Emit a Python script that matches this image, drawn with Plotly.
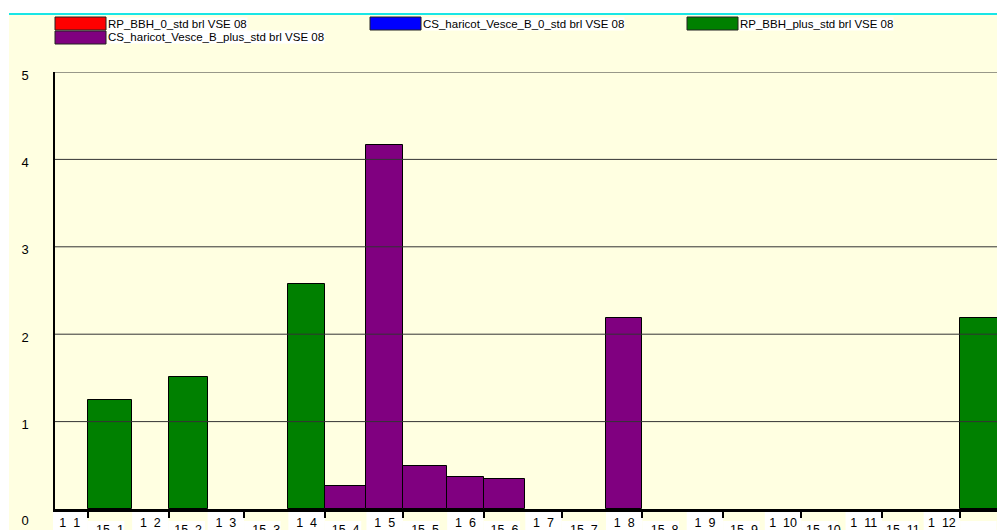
import plotly.graph_objects as go
from datetime import date, datetime, timedelta

# ---------------- data ----------------
year = 2008
months = [1, 2, 3, 4, 5, 6, 7, 8, 9, 10, 11, 12]
period_days = [1, 15]

series_names = [
    "RP_BBH_0_std brl VSE 08",
    "CS_haricot_Vesce_B_0_std brl VSE 08",
    "RP_BBH_plus_std brl VSE 08",
    "CS_haricot_Vesce_B_plus_std brl VSE 08",
]
series_colors = ["#FF0000", "#0000FF", "#008000", "#800080"]

# one value per half-month period: 1 1, 15 1, 1 2, 15 2, ... 1 12, 15 12
rp_bbh_0 = [0, 0, 0, 0, 0, 0, 0, 0, 0, 0, 0, 0,
            0, 0, 0, 0, 0, 0, 0, 0, 0, 0, 0, 0]
cs_haricot_0 = [0, 0, 0, 0, 0, 0, 0, 0, 0, 0, 0, 0,
                0, 0, 0, 0, 0, 0, 0, 0, 0, 0, 0, 0]
rp_bbh_plus = [0, 1.25, 0, 1.51, 0, 0, 2.57, 0, 0, 0, 0, 0,
               0, 0, 0, 0, 0, 0, 0, 0, 0, 0, 0, 2.18]
cs_haricot_plus = [0, 0, 0, 0, 0, 0, 0, 0.26, 4.16, 0.49, 0.37, 0.34,
                   0, 0, 2.18, 0, 0, 0, 0, 0, 0, 0, 0, 0]
series_values = [rp_bbh_0, cs_haricot_0, rp_bbh_plus, cs_haricot_plus]

y_ticks = [0, 1, 2, 3, 4, 5]
y_tick_labels = ["0", "1", "2", "3", "4", "5"]

# ---------------- derived period geometry ----------------
starts = [date(year, m, d) for m in months for d in period_days]
ends = starts[1:] + [date(year + 1, 1, 1)]
labels = [f"{d}\u00a0\u00a0{m}" for m in months for d in period_days]
widths_ms = [(e - s).days * 86400000 for s, e in zip(starts, ends)]
mids = [datetime.combine(s, datetime.min.time()) + (e - s) / 2 for s, e in zip(starts, ends)]

first_half_mids = mids[0::2]
first_half_labels = labels[0::2]
second_half_mids = mids[1::2]
second_half_labels = labels[1::2]
tick_marks = [date(year, m, 15) for m in months]

x_range = [datetime(2008, 1, 2, 9), datetime(2008, 12, 29, 4)]

# ---------------- figure geometry (page pixels -> paper) ----------------
W, H = 997, 530
ML, MR, MT, MB = 55, 0, 72, H - 509
PW, PH = W - ML - MR, H - MT - MB

def px_x(px):
    return (px - ML) / PW

def px_y(py):
    return (H - MB - py) / PH

def date_to_paper(d):
    d = datetime.combine(d, datetime.min.time()) if not isinstance(d, datetime) else d
    return (d - x_range[0]) / (x_range[1] - x_range[0])

fig = go.Figure()
for name, color, vals in zip(series_names, series_colors, series_values):
    fig.add_trace(go.Bar(
        x=starts, y=[v if v else None for v in vals],
        width=widths_ms, offset=0, name=name,
        marker=dict(color=color, line=dict(color="black", width=1)),
        showlegend=False,
    ))
# empty traces so the two label axes are drawn
fig.add_trace(go.Scatter(x=first_half_mids, y=[None] * len(first_half_mids),
                         xaxis="x2", yaxis="y", showlegend=False, hoverinfo="skip"))
fig.add_trace(go.Scatter(x=second_half_mids, y=[None] * len(second_half_mids),
                         xaxis="x3", yaxis="y", showlegend=False, hoverinfo="skip"))

shapes = []
shapes.append(dict(type="rect", xref="paper", yref="paper",
                   x0=px_x(9), x1=px_x(1010), y0=px_y(545), y1=px_y(14),
                   fillcolor="#FFFFE1", line=dict(width=0), layer="below"))
shapes.append(dict(type="line", xref="paper", yref="paper",
                   x0=px_x(9), x1=px_x(1010), y0=px_y(14), y1=px_y(14),
                   line=dict(color="#19E6E6", width=2), layer="above"))
# white label boxes under the axis (as in the original)
for i, s in enumerate(starts):
    top = 512 if i % 2 == 0 else 521
    x0 = max(date_to_paper(s), px_x(53))
    x1 = date_to_paper(s + timedelta(days=14))
    shapes.append(dict(type="rect", xref="paper", yref="paper",
                       x0=x0, x1=x1, y0=px_y(545), y1=px_y(top),
                       fillcolor="white", line=dict(width=0), layer="below"))
for yv in y_ticks[1:]:
    shapes.append(dict(type="line", xref="paper", yref="y",
                       x0=0, x1=1, y0=yv, y1=yv,
                       line=dict(color="#333333", width=1), layer="above"))

legend_pos = [(55, 17), (370, 17), (687, 17), (55, 31)]
annotations = []
for (lx, ly), name, color in zip(legend_pos, series_names, series_colors):
    shapes.append(dict(type="rect", xref="paper", yref="paper",
                       x0=px_x(lx), x1=px_x(lx + 51), y0=px_y(ly + 13), y1=px_y(ly),
                       fillcolor=color, line=dict(color="#222222", width=1), layer="above"))
    annotations.append(dict(xref="paper", yref="paper", x=px_x(lx + 52), y=px_y(ly + 6.5),
                            xanchor="left", yanchor="middle", showarrow=False,
                            text=name, bgcolor="white", borderpad=0,
                            font=dict(family="Arial, Liberation Sans", size=11.5, color="black")))

axis_font = dict(family="Arial, Liberation Sans", size=12.5, color="black")
# the zero label sits lower than the others in the original
y_tick_text = ["<br>" + t if v == 0 else t for v, t in zip(y_ticks, y_tick_labels)]

fig.update_layout(
    width=W, height=H, autosize=False,
    margin=dict(l=ML, r=MR, t=MT, b=MB, pad=0, autoexpand=False),
    paper_bgcolor="white", plot_bgcolor="#FFFFE1",
    barmode="overlay", bargap=0,
    shapes=shapes, annotations=annotations,
    showlegend=False,
    xaxis=dict(type="date", range=x_range, tickvals=tick_marks, showticklabels=False,
               ticks="outside", ticklen=6, tickwidth=1.5, tickcolor="black",
               showline=True, linecolor="black", linewidth=3, showgrid=False,
               zeroline=False, layer="above traces", fixedrange=True, automargin=False),
    xaxis2=dict(type="date", range=x_range, overlaying="x", anchor="y", side="bottom",
                tickvals=first_half_mids, ticktext=first_half_labels, ticks="",
                showline=False, showgrid=False, zeroline=False, tickfont=axis_font,
                ticklabelstandoff=4, automargin=False),
    xaxis3=dict(type="date", range=x_range, overlaying="x", anchor="y", side="bottom",
                tickvals=second_half_mids, ticktext=second_half_labels, ticks="",
                showline=False, showgrid=False, zeroline=False, tickfont=axis_font,
                ticklabelstandoff=11, automargin=False),
    yaxis=dict(range=[0, 5], tickvals=y_ticks, ticktext=y_tick_text,
               showgrid=False, zeroline=False,
               showline=True, linecolor="black", linewidth=1.5, ticks="",
               tickfont=dict(family="Arial, Liberation Sans", size=13, color="black"),
               ticklabelstandoff=22, ticklabelshift=3, layer="above traces",
               automargin=False),
)

fig.write_html(
    "out.html",
    config={"displayModeBar": False},
    post_script="document.body.style.margin='0px';"
                "document.documentElement.style.overflow='hidden';",
)
